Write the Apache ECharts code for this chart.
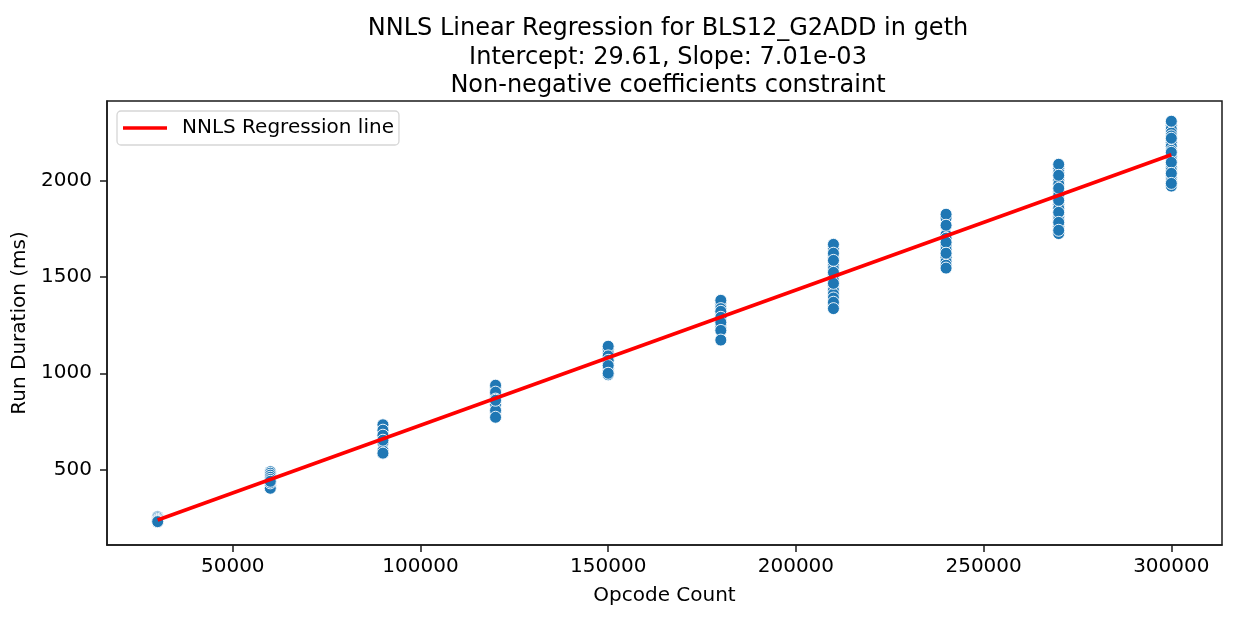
<!DOCTYPE html>
<html>
<head>
<meta charset="utf-8">
<title>NNLS Linear Regression for BLS12_G2ADD in geth</title>
<script src="https://cdn.jsdelivr.net/npm/echarts@6/dist/echarts.min.js"></script>
<style>
  html, body { margin: 0; padding: 0; background: #fff; }
  #chart { width: 1237px; height: 619px; }
</style>
</head>
<body>
<div id="chart"></div>
<script>
// run durations (ms), one list per opcode count
var dur30k  = [256, 250, 243, 229, 238, 234, 231];
var dur60k  = [490, 482, 410, 420, 472, 404, 461, 432, 450, 440];
var dur90k  = [718, 690, 666, 642, 598, 733, 705, 679, 653, 586];
var dur120k = [925, 912, 888, 876, 840, 795, 938, 902, 866, 808, 860, 772];
var dur150k = [1122, 1105, 1078, 1052, 1026, 1012, 992, 1140, 1090, 1067, 1040, 1000];
var dur180k = [1362, 1348, 1305, 1276, 1250, 1236, 1378, 1335, 1321, 1290, 1264, 1222, 1172];
var dur210k = [1645, 1600, 1560, 1540, 1500, 1480, 1448, 1430, 1410, 1390, 1350, 1668, 1622, 1585, 1523, 1466, 1368, 1335];
var dur240k = [1805, 1718, 1660, 1640, 1600, 1578, 1560, 1824, 1767, 1700, 1679, 1622, 1545];
var dur270k = [2060, 2040, 2000, 1980, 1940, 1920, 1875, 1855, 1812, 1795, 1760, 1724, 2083, 2026, 1959, 1896, 1834, 1782, 1741];
var dur300k = [2285, 2265, 2245, 2230, 2195, 2175, 2155, 2125, 2105, 2068, 2050, 2012, 1995, 1970, 2306, 2218, 2145, 2093, 2036, 1984];

var opcodeCounts = [30000, 60000, 90000, 120000, 150000, 180000, 210000, 240000, 270000, 300000];
var durations = [dur30k, dur60k, dur90k, dur120k, dur150k, dur180k, dur210k, dur240k, dur270k, dur300k];

// fitted NNLS line
var intercept = 29.61;
var slope = 7.01e-3;
var lineX = [30000, 300000];

var xTicks = [50000, 100000, 150000, 200000, 250000, 300000];
var yTicks = [500, 1000, 1500, 2000];

var scatterData = [];
for (var i = 0; i < opcodeCounts.length; i++) {
  for (var j = 0; j < durations[i].length; j++) {
    scatterData.push([opcodeCounts[i], durations[i][j]]);
  }
}
var lineData = [];
for (var k = 0; k < lineX.length; k++) {
  lineData.push([lineX[k], intercept + slope * lineX[k]]);
}

var FONT = "DejaVu Sans";
var AXIS_COLOR = "#1a1a1a";

function plainNum(v){
  return String(v);
}

var myChart = echarts.init(document.getElementById("chart"));

var option = {
  backgroundColor: "#fff",
  animation: false,
  textStyle: { fontFamily: FONT },
  title: {
    text: "NNLS Linear Regression for BLS12_G2ADD in geth\nIntercept: 29.61, Slope: 7.01e-03\nNon-negative coefficients constraint",
    left: 663,
    top: 10,
    textAlign: "center",
    textStyle: {
      fontFamily: FONT,
      fontSize: 24,
      fontWeight: "normal",
      color: "#000",
      lineHeight: 28.3
    }
  },
  legend: {
    data: ["NNLS Regression line"],
    left: 117,
    top: 111,
    orient: "vertical",
    icon: "rect",
    itemWidth: 44,
    itemHeight: 3.6,
    padding: [7, 5, 7, 6],
    backgroundColor: "#fff",
    borderColor: "#d6d6d6",
    borderWidth: 1.3,
    borderRadius: 4,
    textStyle: {
      fontFamily: FONT,
      fontSize: 20,
      color: "#000",
      padding: [0, 0, 0, 10]
    }
  },
  grid: {
    left: 107,
    right: 15,
    top: 101,
    bottom: 74,
    outerBoundsMode: "none",
    containLabel: false,
    show: true,
    borderColor: AXIS_COLOR,
    borderWidth: 1.5,
    backgroundColor: "#fff"
  },
  xAxis: {
    type: "value",
    min: 16500,
    max: 313500,
    name: "Opcode Count",
    nameLocation: "middle",
    nameGap: 41,
    nameTextStyle: { fontFamily: FONT, fontSize: 20, color: "#000" },
    splitLine: { show: false },
    axisLine: { show: true, lineStyle: { color: AXIS_COLOR, width: 1.5 } },
    axisTick: { show: true, length: 7, customValues: xTicks, lineStyle: { color: AXIS_COLOR, width: 1.5 } },
    axisLabel: { customValues: xTicks, formatter: plainNum, margin: 12, fontFamily: FONT, fontSize: 20, color: "#000" }
  },
  yAxis: {
    type: "value",
    min: 110,
    max: 2411,
    name: "Run Duration (ms)",
    nameLocation: "middle",
    nameGap: 66,
    nameTextStyle: { fontFamily: FONT, fontSize: 20, color: "#000" },
    splitLine: { show: false },
    axisLine: { show: true, lineStyle: { color: AXIS_COLOR, width: 1.5 } },
    axisTick: { show: true, length: 7, customValues: yTicks, lineStyle: { color: AXIS_COLOR, width: 1.5 } },
    axisLabel: { customValues: yTicks, formatter: plainNum, margin: 15, fontFamily: FONT, fontSize: 20, color: "#000" }
  },
  series: [
    {
      name: "durations",
      type: "scatter",
      data: scatterData,
      symbol: "circle",
      symbolSize: 12,
      itemStyle: { color: "#1f77b4", borderColor: "#fff", borderWidth: 0.9, opacity: 1 },
      z: 2
    },
    {
      name: "NNLS Regression line",
      type: "line",
      data: lineData,
      symbol: "none",
      lineStyle: { color: "#ff0000", width: 3.6 },
      itemStyle: { color: "#ff0000" },
      z: 3
    }
  ]
};

myChart.setOption(option);
</script>
</body>
</html>
